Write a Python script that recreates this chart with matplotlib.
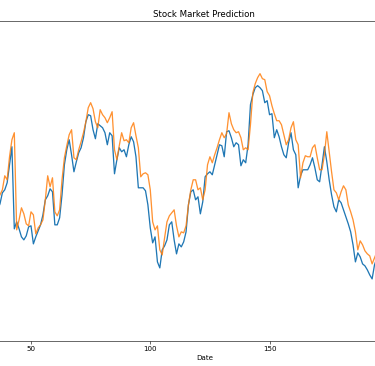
"""Stock market prediction: actual vs predicted price (cropped view)."""

import matplotlib

matplotlib.use("Agg")
import matplotlib.pyplot as plt


# day index of each visible sample
DAYS = list(range(36, 196))

ACTUAL = [
    190, 196, 207, 210, 217, 235, 253, 171, 178, 171,
    163, 160, 164, 173, 174, 156, 163, 169, 175, 185,
    200, 204, 211, 208, 175, 175, 182, 205, 235, 250,
    260, 245, 228, 238, 247, 252, 262, 278, 285, 284,
    270, 261, 276, 274, 272, 267, 255, 267, 264, 226,
    240, 252, 248, 250, 243, 255, 263, 258, 243, 212,
    212, 212, 209, 195, 172, 157, 163, 138, 132, 150,
    154, 160, 175, 178, 160, 146, 156, 153, 158, 168,
    195, 208, 210, 200, 203, 186, 198, 223, 226, 228,
    225, 235, 245, 255, 254, 243, 268, 269, 262, 253,
    257, 255, 234, 240, 237, 255, 295, 305, 312, 314,
    312, 309, 297, 299, 285, 286, 262, 270, 263, 253,
    245, 242, 257, 267, 250, 245, 212, 224, 230, 230,
    230, 235, 242, 232, 220, 218, 235, 253, 238, 220,
    205, 193, 188, 200, 197, 190, 183, 176, 168, 155,
    138, 147, 143, 136, 134, 130, 125, 121, 135, 142,
]

PREDICTED = [
    200, 205, 210, 224, 220, 243, 260, 267, 170, 180,
    192, 186, 176, 174, 188, 185, 166, 172, 175, 180,
    200, 224, 213, 222, 188, 184, 190, 220, 242, 254,
    265, 270, 242, 240, 250, 258, 267, 278, 292, 297,
    291, 278, 272, 290, 285, 282, 277, 282, 288, 250,
    240, 254, 267, 259, 260, 257, 272, 277, 264, 252,
    223, 226, 227, 225, 210, 178, 170, 174, 150, 145,
    162, 178, 184, 187, 190, 174, 163, 168, 167, 174,
    195, 210, 220, 220, 210, 212, 200, 210, 235, 243,
    237, 245, 252, 260, 267, 262, 266, 287, 276, 270,
    267, 268, 262, 250, 252, 250, 275, 307, 316, 322,
    326, 321, 320, 308, 304, 294, 286, 279, 279, 275,
    265, 255, 260, 272, 278, 260, 255, 222, 237, 244,
    243, 243, 252, 255, 242, 230, 230, 245, 268, 248,
    228, 210, 207, 200, 208, 214, 210, 195, 188, 180,
    168, 150, 159, 155, 149, 146, 144, 136, 142, 148,
]

XTICKS = [50, 100, 150]


def main():
    dpi = 51.7
    fig = plt.figure(figsize=(375.4 / dpi, 366.4 / dpi), dpi=dpi)
    # the source image is a crop of a wider figure, so the axes run past the edges
    ax = fig.add_axes([-0.3133, 0.0683, 1.7157, 0.873])

    ax.plot(DAYS, ACTUAL, color="tab:blue", linewidth=1.8, label="Actual Price")
    ax.plot(DAYS, PREDICTED, color="tab:orange", linewidth=1.8, alpha=0.85,
            label="Predicted Price")

    ax.set_xlim(-12.3, 257.7)
    ax.set_ylim(59, 378.5)
    ax.set_xticks(XTICKS)
    ax.set_yticks([])
    ax.set_xlabel("Date")
    ax.set_title("Stock Market Prediction")

    fig.savefig("out.png", dpi=dpi)


if __name__ == "__main__":
    main()
